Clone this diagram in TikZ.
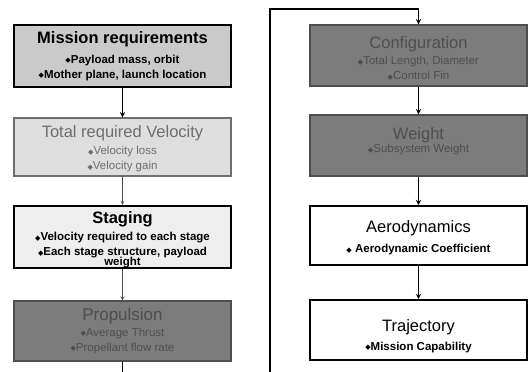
\documentclass[tikz,border=0pt]{standalone}
\usepackage{fontspec}
\setmainfont{Liberation Sans}
\newfontfamily\symbolFont{DejaVu Sans}
\usetikzlibrary{positioning}
\definecolor{lightFill}{RGB}{202,202,202}
\definecolor{paleFill}{RGB}{222,222,222}
\definecolor{whiteFill}{RGB}{238,238,238}
\definecolor{darkFill}{RGB}{124,124,124}
\definecolor{fadedText}{RGB}{110,110,110}
\definecolor{darkText}{RGB}{78,78,78}
\tikzstyle{chart} = [x = 1pt, y = -1pt]
\tikzstyle{blockStyle} = [draw, minimum width = 217pt, align = center, inner sep = 0pt, font=\fontsize{11.5}{15}\selectfont]
\tikzstyle{strongBlock} = [blockStyle, color=black, line width = 1.6pt]
\tikzstyle{fadedBlock} = [blockStyle, draw=fadedText, text=fadedText, line width = 1.2pt]
\tikzstyle{darkBlock} = [blockStyle, draw=darkText, text=darkText, fill=darkFill, line width = 1.2pt]
\tikzstyle{strongLink} = [->, >=stealth, line width = 1.4pt]
\tikzstyle{thinLink} = [->, >=stealth, color=darkText, line width = .8pt]
\newcommand{\itemMark}{{\symbolFont\fontsize{7}{7}\selectfont\raisebox{.5pt}{◆}}}
\newcommand{\blockTitle}[1]{{\fontsize{16.5}{15}\selectfont #1}}
\newcommand{\blockItem}[1]{\itemMark #1}
\newcommand{\topStrut}[1]{\rule{0pt}{#1}}
\newcommand{\bottomStrut}[1]{\rule[-#1]{0pt}{0pt}}

\begin{document}
\begin{tikzpicture}[chart]
  \useasboundingbox (0,0) rectangle (528,372);
  \clip (0,0) rectangle (528,372);

  % left column
  \node [strongBlock, fill=lightFill, minimum height = 62pt] (mission) at (122.5,56)
    {\bfseries\blockTitle{Mission requirements}\\[5pt] \bfseries\blockItem{Payload mass, orbit}\\ \bfseries\blockItem{Mother plane, launch location}};
  \node [fadedBlock, fill=paleFill, minimum height = 58pt] (velocity) at (122.5,147)
    {\topStrut{16pt}\blockTitle{Total required Velocity}\\[2pt] \blockItem{Velocity loss}\\ \blockItem{Velocity gain}};
  \node [strongBlock, fill=whiteFill, minimum height = 60pt] (staging) at (122.5,237)
    {\topStrut{18pt}\bfseries\blockTitle{Staging}\\[2pt] \bfseries\blockItem{Velocity required to each stage}\\
     \bfseries\blockItem{Each stage structure, payload}\\[-5pt] \bfseries weight};
  \node [darkBlock, minimum height = 60pt] (propulsion) at (122.5,331)
    {{\fontsize{17}{15}\selectfont Propulsion}\\[1pt] \blockItem{Average Thrust}\\ \blockItem{Propellant flow rate}};

  % right column
  \node [darkBlock, minimum height = 61pt] (configuration) at (418.5,55.5)
    {\topStrut{18pt}\blockTitle{Configuration}\\[1pt] \blockItem{Total Length, Diameter}\\ \blockItem{Control Fin}};
  \node [darkBlock, minimum height = 61pt] (weight) at (418.5,145.5)
    {\blockTitle{Weight}\\[-2pt] \blockItem{Subsystem Weight}\bottomStrut{10.4pt}};
  \node [strongBlock, fill=white, minimum height = 59pt] (aerodynamics) at (418.5,235.5)
    {\topStrut{17pt}\blockTitle{Aerodynamics}\\[5pt] \bfseries\blockItem{ Aerodynamic Coefficient}};
  \node [strongBlock, fill=white, minimum height = 60pt] (trajectory) at (418.5,330)
    {\topStrut{24pt}\blockTitle{Trajectory}\\[4pt] \bfseries\blockItem{Mission Capability}};

  \coordinate (loopLeft) at (122.5,390);
  \coordinate (loopRight) at (270,390);
  \coordinate (loopTop) at (270,9);

  \draw [strongLink] (mission) -- (velocity);
  \draw [thinLink] (velocity) -- (staging);
  \draw [thinLink] (staging) -- (propulsion);
  \draw [strongLink] (propulsion.south) -- (loopLeft) -- (loopRight) -- (loopTop) -| (configuration.north);
  \draw [strongLink] (configuration) -- (weight);
  \draw [strongLink] (weight) -- (aerodynamics);
  \draw [strongLink] (aerodynamics) -- (trajectory);
\end{tikzpicture}
\end{document}
